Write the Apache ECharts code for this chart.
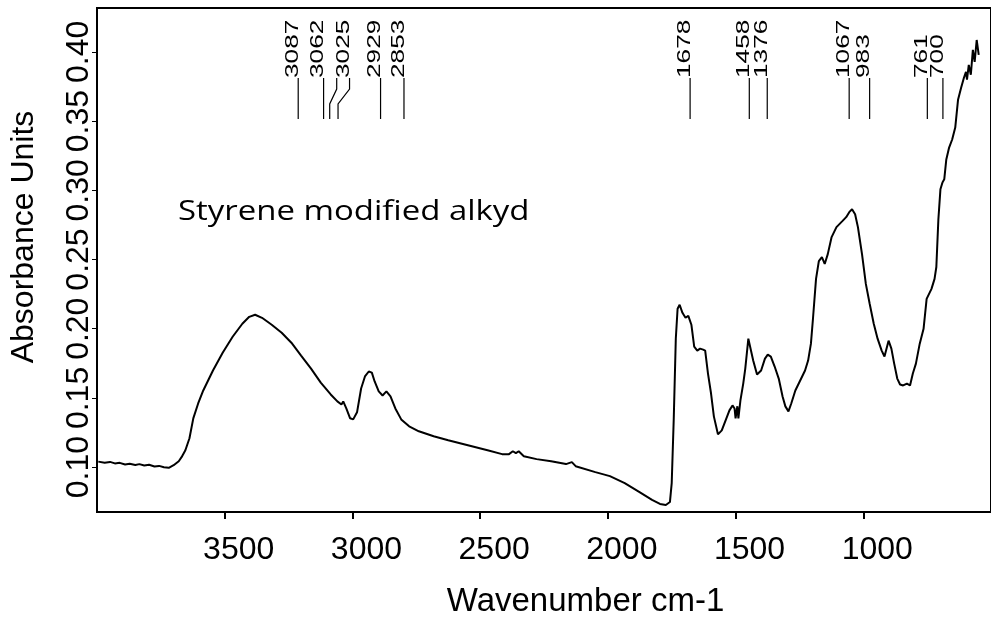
<!DOCTYPE html>
<html>
<head>
<meta charset="utf-8">
<script src="https://cdn.jsdelivr.net/npm/echarts@6/dist/echarts.min.js"></script>
<style>
  html, body { margin: 0; padding: 0; background: #fff; }
  #chart { width: 991px; height: 623px; }
</style>
</head>
<body>
<div id="chart"></div>
<script>
  // spectrum (cm-1, absorbance)
  var wavenumber = [3995, 3970, 3949, 3930, 3911, 3890, 3872, 3850, 3834, 3815, 3796, 3775, 3757, 3738, 3719, 3700,
    3680, 3669, 3654, 3638, 3623, 3604, 3584,
    3546, 3508, 3469, 3431, 3404, 3381, 3354, 3316, 3277, 3239, 3201, 3162, 3124, 3085, 3059, 3043, 3036, 3024,
    3009, 2997, 2982, 2966, 2951, 2936, 2924, 2913, 2897, 2882, 2867, 2851, 2832, 2809, 2778, 2740, 2682, 2625,
    2548, 2471, 2414, 2387, 2372, 2360, 2349, 2329, 2279, 2222, 2164, 2141, 2126, 2049, 1992, 1934, 1876, 1827,
    1796, 1773, 1757, 1750, 1742, 1734, 1727, 1719, 1708, 1696, 1685, 1673, 1662, 1650, 1639, 1627, 1619, 1608,
    1596, 1585, 1569, 1554, 1539, 1524, 1512, 1504, 1500, 1493, 1489, 1481, 1470, 1462, 1450, 1443, 1431, 1416,
    1400, 1385, 1374, 1362, 1347, 1331, 1316, 1305, 1293, 1282, 1266, 1247, 1228, 1216, 1205, 1197, 1185, 1174,
    1162, 1151, 1139, 1124, 1105, 1082, 1067, 1055, 1044, 1032, 1021, 1005, 990, 975, 959, 944, 928, 917, 901,
    890, 879, 867, 856, 844, 829, 817, 806, 794, 779, 764, 752, 733, 721, 714, 706, 698, 690, 683, 675, 664, 652,
    640, 629, 617, 606, 598, 594, 587, 579, 571, 564, 556, 548];
  var absorbance = [0.104, 0.1032, 0.1038, 0.1027, 0.1031, 0.1019, 0.1024, 0.1016, 0.1022, 0.1012, 0.1017, 0.1005,
    0.1009, 0.0999, 0.0995, 0.1014, 0.1043, 0.1072, 0.1122,
    0.1209, 0.1352, 0.146, 0.1554, 0.1698, 0.1827, 0.1942, 0.2036, 0.2086, 0.2101, 0.2079, 0.2029, 0.1971, 0.1899,
    0.1806, 0.1712, 0.1611, 0.1525, 0.1475, 0.1453, 0.1475, 0.1424, 0.1353, 0.1345, 0.1396, 0.1568, 0.1655, 0.1691,
    0.1683, 0.1619, 0.1547, 0.1518, 0.1547, 0.1511, 0.1424, 0.1345, 0.1295, 0.1259, 0.1223, 0.1194, 0.1158, 0.1122,
    0.1094, 0.1094, 0.1115, 0.1101, 0.1115, 0.1079, 0.1058, 0.1043, 0.1022, 0.1036, 0.1007, 0.0964, 0.0935, 0.0885,
    0.082, 0.0763, 0.0734, 0.0727, 0.0748, 0.0885, 0.1352, 0.1928, 0.2144, 0.2173, 0.2115, 0.2079, 0.2093, 0.2029,
    0.187, 0.1842, 0.1856, 0.1849, 0.1842, 0.1676, 0.1532, 0.1367, 0.1237, 0.1266, 0.1338, 0.141, 0.1446, 0.1424,
    0.1352, 0.144, 0.1352, 0.1482, 0.1604, 0.1712, 0.1928, 0.187, 0.177, 0.1669, 0.1698, 0.1784, 0.1813, 0.1799,
    0.1727, 0.164, 0.1511, 0.1439, 0.1403, 0.146, 0.1554, 0.1626, 0.1698, 0.177, 0.1892, 0.2072, 0.236, 0.2489,
    0.2518, 0.2468, 0.2539, 0.2662, 0.2734, 0.2777, 0.2806, 0.2842, 0.2863, 0.2827, 0.2734, 0.2539, 0.2324, 0.218,
    0.2036, 0.1928, 0.1842, 0.1799, 0.1914, 0.1856, 0.1748, 0.164, 0.1597, 0.159, 0.1604, 0.159, 0.1676, 0.1748,
    0.1892, 0.1999, 0.2216, 0.2288, 0.236, 0.2446, 0.2791, 0.3007, 0.3057, 0.3079, 0.3223, 0.3309, 0.3367, 0.3453,
    0.3655, 0.3741, 0.3813, 0.3856, 0.3799, 0.3906, 0.3835, 0.4014, 0.3928, 0.4086, 0.3978];

  // picked peaks (the last leader has no readable label)
  var peakWn = [3087, 3062, 3025, 2929, 2853, 1678, 1458, 1376, 1067, 983, 761, 700, 3087];
  var peakLabels = ['3087', '3062', '3025', '2929', '2853', '1678', '1458', '1376', '1067', '983', '761', '700', ''];
  // label spreading in px (top of leader, bottom of leader)
  var labelDx = [-32, -13, 3.5, 10, 14, 0, 3, 0, 3, 2, 3, 3, 6.5];
  var footDx = [-32, -13, -8, 10, 14, 0, 3, 0, 3, 2, 3, 3, -0.5];

  var xTicks = [1000, 1500, 2000, 2500, 3000, 3500];

  var chart = echarts.init(document.getElementById('chart'));

  var spectrum = wavenumber.map(function (w, i) { return [w, absorbance[i]]; });
  var peaks = peakWn.map(function (w, i) { return [w, i]; });

  var font = 'Liberation Sans, Arial, sans-serif';

  var option = {
    animation: false,
    backgroundColor: '#fff',
    grid: {
      left: 92, top: 8, width: 912, height: 506,
      show: true, borderColor: '#000', borderWidth: 2
    },
    xAxis: {
      type: 'value',
      inverse: true,
      min: 500,
      max: 4000,
      interval: 500,
      name: 'Wavenumber cm-1',
      nameLocation: 'middle',
      nameGap: 73,
      nameTextStyle: { fontSize: 33, color: '#000', fontFamily: font, padding: [0, 0, 0, 83] },
      axisLine: { lineStyle: { color: '#000', width: 2 } },
      axisTick: { length: 7, lineStyle: { color: '#000', width: 2 } },
      axisLabel: {
        fontSize: 32, color: '#000', fontFamily: font, margin: 22,
        padding: [0, 0, 0, 28],
        showMinLabel: false, showMaxLabel: false,
        formatter: function (v) { return xTicks.indexOf(v) >= 0 ? String(v) : ''; }
      },
      splitLine: { show: false }
    },
    yAxis: {
      type: 'value',
      min: 0.0676,
      max: 0.4317,
      splitNumber: 7,
      minInterval: 0.05,
      maxInterval: 0.05,
      name: 'Absorbance Units',
      nameLocation: 'middle',
      nameGap: 57,
      nameTextStyle: { fontSize: 32, color: '#000', fontFamily: font, padding: [0, 0, 0, 46] },
      axisLine: { show: true, lineStyle: { color: '#000', width: 2 } },
      axisTick: { show: true, length: 5, lineStyle: { color: '#000' } },
      axisLabel: {
        rotate: 90, fontSize: 32, color: '#000', fontFamily: font, margin: 2,
        showMinLabel: false, showMaxLabel: false,
        formatter: function (v) { return v.toFixed(2); }
      },
      splitLine: { show: false }
    },
    graphic: [{
      type: 'text',
      left: 178, top: 199,
      scaleX: 1.22,
      style: { text: 'Styrene modified alkyd', fontSize: 27, fontFamily: 'Open Sans, sans-serif', fill: '#000' }
    }],
    series: [{
      type: 'line',
      data: spectrum,
      showSymbol: false,
      symbol: 'none',
      lineStyle: { color: '#000', width: 2 },
      z: 3
    }, {
      type: 'custom',
      data: peaks,
      silent: true,
      renderItem: function (params, api) {
        var i = api.value(1);
        var x = api.coord([api.value(0), 0.2])[0];
        var top = params.coordSys.y;
        var xt = x + labelDx[i], xb = x + footDx[i];
        return {
          type: 'group',
          children: [{
            type: 'polyline',
            shape: { points: [[xt, top + 70], [xt, top + 81], [xb, top + 96], [xb, top + 111]] },
            style: { stroke: '#000', lineWidth: 1.2, fill: null }
          }, {
            // rotated frame, then stretched along the text
            type: 'group',
            x: xt + 4, y: top + 70,
            rotation: Math.PI / 2,
            children: [{
              type: 'group',
              scaleX: 1.5,
              children: [{
                type: 'text',
                style: {
                  text: peakLabels[i], fontSize: 17.5, fontFamily: font, fill: '#000',
                  align: 'left', verticalAlign: 'bottom'
                }
              }]
            }]
          }]
        };
      },
      z: 4
    }]
  };

  chart.setOption(option);
</script>
</body>
</html>
